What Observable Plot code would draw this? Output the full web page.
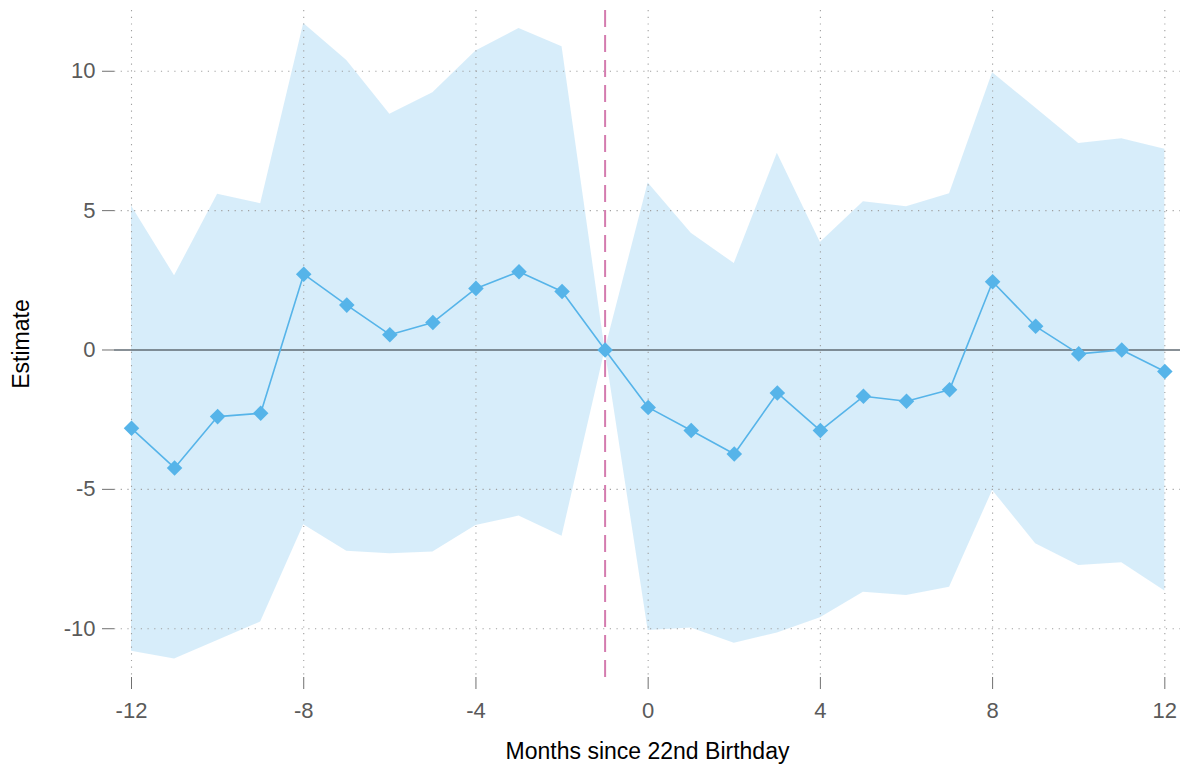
<!DOCTYPE html>
<html>
<head>
<meta charset="utf-8">
<script src="https://cdn.jsdelivr.net/npm/d3@7"></script>
<script src="https://cdn.jsdelivr.net/npm/@observablehq/plot@0.6"></script>
<style>
  html, body { margin: 0; padding: 0; background: #ffffff; }
  #chart svg { display: block; }
</style>
</head>
<body>
<div id="chart"></div>
<script>
// Event-study estimates by month relative to the 22nd birthday (reference month -1).
const months   = [-12, -11, -10, -9, -8, -7, -6, -5, -4, -3, -2, -1, 0, 1, 2, 3, 4, 5, 6, 7, 8, 9, 10, 11, 12];
const estimate = [-2.81, -4.23, -2.39, -2.27, 2.72, 1.61, 0.55, 0.99, 2.21, 2.81, 2.10, 0,
                  -2.06, -2.89, -3.73, -1.54, -2.89, -1.66, -1.84, -1.43, 2.45, 0.85, -0.14, 0.0, -0.77];
const ciLow    = [-10.81, -11.09, -10.42, -9.76, -6.27, -7.22, -7.31, -7.25, -6.30, -5.96, -6.68, 0,
                  -10.06, -9.97, -10.52, -10.15, -9.61, -8.69, -8.81, -8.51, -5.04, -6.95, -7.73, -7.63, -8.65];
const ciHigh   = [5.17, 2.66, 5.59, 5.25, 11.71, 10.39, 8.46, 9.23, 10.73, 11.53, 10.88, 0,
                  5.99, 4.19, 3.10, 7.06, 3.86, 5.32, 5.14, 5.61, 9.95, 8.68, 7.41, 7.58, 7.20];

const xTicks = [-12, -8, -4, 0, 4, 8, 12];
const yTicks = [-10, -5, 0, 5, 10];
const eventMonth = -1;

const rows = months.map((m, i) => ({month: m, est: estimate[i], lo: ciLow[i], hi: ciHigh[i]}));

const blue = "#56B4E9";
const gridStyle = {stroke: "#a0a0a0", strokeOpacity: 1, strokeWidth: 1.1, strokeDasharray: "1.2,5.5"};
const plainNumber = d => String(d); // ASCII hyphen for negatives

const chart = Plot.plot({
  width: 1180,
  height: 765,
  marginTop: 10,
  marginRight: 0,
  marginBottom: 88,
  marginLeft: 114,
  style: {fontFamily: "'Liberation Sans', Arial, sans-serif", fontSize: "22px", background: "#ffffff"},
  x: {domain: [-12.395, 12.364]},
  y: {domain: [-11.75, 12.18]},
  marks: [
    // confidence band
    Plot.areaY(rows, {x: "month", y1: "lo", y2: "hi", fill: blue, fillOpacity: 0.24}),
    // dotted grid
    Plot.gridX(xTicks, gridStyle),
    Plot.gridY(yTicks.filter(v => v !== 0), gridStyle),
    // zero reference and event month
    Plot.ruleY([0], {stroke: "#606b73", strokeWidth: 1.6}),
    Plot.ruleX([eventMonth], {stroke: "#d47caf", strokeWidth: 2, strokeDasharray: "17,8"}),
    // point estimates
    Plot.line(rows, {x: "month", y: "est", stroke: blue, strokeWidth: 1.6}),
    Plot.dot(rows, {x: "month", y: "est", symbol: "diamond2", r: 7, fill: blue, stroke: "none"}),
    // axes
    Plot.axisX(xTicks, {tickSize: 12, tickPadding: 12.5, stroke: "#707070", fill: "#5a5a5a",
                        tickFormat: plainNumber, label: null}),
    Plot.axisY(yTicks, {tickSize: 12, tickPadding: 7, stroke: "#707070", fill: "#5a5a5a",
                        tickFormat: plainNumber, label: null}),
    Plot.axisX({ticks: [], tickSize: 0, label: "Months since 22nd Birthday", labelAnchor: "center",
                labelOffset: 81, labelArrow: "none", fill: "#000000", fontSize: 23}),
    Plot.axisY({ticks: [], tickSize: 0, label: "Estimate", labelAnchor: "center",
                labelOffset: 102, labelArrow: "none", fill: "#000000", fontSize: 23})
  ]
});

document.getElementById("chart").appendChild(chart);
</script>
</body>
</html>
